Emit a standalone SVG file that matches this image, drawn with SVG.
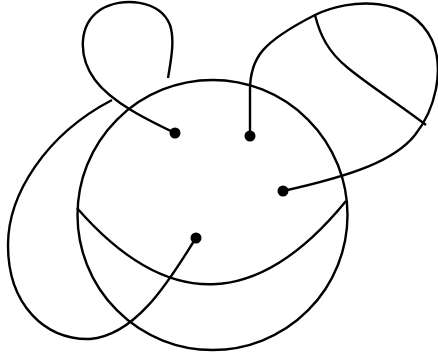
<svg xmlns="http://www.w3.org/2000/svg" width="438" height="356" viewBox="0 0 438 356">
<style>
.s{fill:none;stroke:#000;stroke-width:2.4;stroke-linecap:butt;stroke-linejoin:round}
.d{fill:#000}
</style>
<rect width="438" height="356" fill="#fff"/>
<g id="disk">
<circle class="s" cx="212.5" cy="215" r="135"/>
<path class="s" d="M77,208 Q213,364 346,201"/>
</g>
<g id="connectors">
<path class="s" d="M175,133 C150,121 112,103 95,80 C78,57 78,25 100,10 C122,-4 160,0 170,25 C175,40 171,60 168,78"/>
<path class="s" d="M196,238 C175,270 140,335 90,339 C45,340 8,305 8,245 C8,195 45,135 112,100"/>
<path class="s" d="M250,136 L250,90 C250,58 262,42 315,15 C350,-2 410,-5 432,40 C445,70 435,110 415,135 C395,160 355,175 283,191"/>
<path class="s" d="M315,15 C320,35 328,52 348,68 C370,86 400,105 426,125"/>
</g>
<g id="n1"><circle class="d" cx="175" cy="133" r="5.5"/></g>
<g id="n2"><circle class="d" cx="250" cy="136" r="5.5"/></g>
<g id="n3"><circle class="d" cx="283" cy="191" r="5.5"/></g>
<g id="n4"><circle class="d" cx="196" cy="238" r="5.5"/></g>
</svg>
